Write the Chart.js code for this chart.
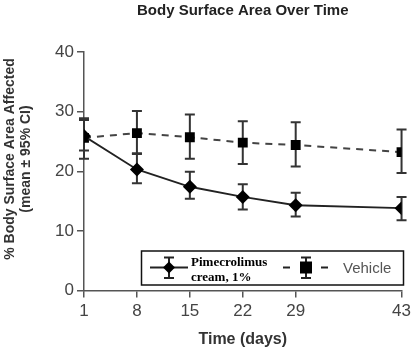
<!DOCTYPE html>
<html>
<head>
<meta charset="utf-8">
<script src="https://cdn.jsdelivr.net/npm/chart.js@4.4.1/dist/chart.umd.min.js"></script>
<style>
html,body{margin:0;padding:0;background:#fff;}
#wrap{position:relative;width:415px;height:353px;}
</style>
</head>
<body>
<div id="wrap"><canvas id="c" width="415" height="353"></canvas></div>
<script>
const days = [1, 8, 15, 22, 29, 43];
const tickLabels = ['1', '8', '15', '22', '29', '43'];
const pimeMean = [25.9, 20.3, 17.4, 15.7, 14.3, 13.8];
const pimeLower = [23.5, 18.0, 15.4, 13.6, 12.4, 11.8];
const pimeUpper = [28.6, 23.0, 19.9, 17.8, 16.4, 15.7];
const vehMean = [25.6, 26.4, 25.7, 24.8, 24.4, 23.2];
const vehLower = [22.1, 22.9, 22.1, 21.2, 20.8, 19.7];
const vehUpper = [28.9, 30.1, 29.5, 28.4, 28.2, 27.0];
const seriesNames = ['Pimecrolimus', 'cream, 1%', 'Vehicle'];
const chartTitle = 'Body Surface Area Over Time';
const yTitle = ['% Body Surface Area Affected', '(mean \u00b1 95% CI)'];
const xTitle = 'Time (days)';

const errs = [[pimeLower, pimeUpper], [vehLower, vehUpper]];

const errorBars = {
  id: 'errorBars',
  beforeDatasetsDraw(chart) {
    const ctx = chart.ctx, xs = chart.scales.x, ys = chart.scales.y;
    ctx.save();
    ctx.strokeStyle = '#333';
    ctx.lineWidth = 2;
    errs.forEach(([lo, hi]) => {
      days.forEach((d, j) => {
        const x = xs.getPixelForValue(d);
        const y1 = ys.getPixelForValue(lo[j]);
        const y2 = ys.getPixelForValue(hi[j]);
        ctx.beginPath();
        ctx.moveTo(x, y1); ctx.lineTo(x, y2);
        ctx.moveTo(x - 5, y1); ctx.lineTo(x + 5, y1);
        ctx.moveTo(x - 5, y2); ctx.lineTo(x + 5, y2);
        ctx.stroke();
      });
    });
    ctx.restore();
  }
};

const extras = {
  id: 'extras',
  afterDraw(chart) {
    const ctx = chart.ctx, a = chart.chartArea;
    ctx.save();
    // title
    ctx.fillStyle = '#222';
    ctx.font = 'bold 15px "Liberation Sans", Arial, sans-serif';
    ctx.textAlign = 'center';
    ctx.textBaseline = 'middle';
    ctx.fillText(chartTitle, (a.left + a.right) / 2, 11);
    // y title
    ctx.save();
    ctx.translate(0, 159);
    ctx.rotate(-Math.PI / 2);
    ctx.font = 'bold 14px "Liberation Sans", Arial, sans-serif';
    ctx.fillStyle = '#333';
    ctx.fillText(yTitle[0], 0, 10);
    ctx.fillText(yTitle[1], 0, 26);
    ctx.restore();
    // legend
    ctx.strokeStyle = '#111';
    ctx.lineWidth = 1.5;
    ctx.strokeRect(141.5, 251, 262, 34);
    const cy = 267.5;
    // pime symbol
    ctx.strokeStyle = '#222';
    ctx.lineWidth = 2;
    ctx.beginPath();
    ctx.moveTo(150, cy); ctx.lineTo(188, cy);
    ctx.moveTo(169, 257.5); ctx.lineTo(169, 278);
    ctx.moveTo(164, 257.5); ctx.lineTo(174, 257.5);
    ctx.moveTo(164, 278); ctx.lineTo(174, 278);
    ctx.stroke();
    ctx.fillStyle = '#000';
    ctx.beginPath();
    ctx.moveTo(169, cy - 6); ctx.lineTo(175, cy); ctx.lineTo(169, cy + 6); ctx.lineTo(163, cy);
    ctx.closePath(); ctx.fill();
    ctx.font = 'bold 13px "Liberation Serif", "Times New Roman", serif';
    ctx.textAlign = 'left';
    ctx.textBaseline = 'alphabetic';
    ctx.fillText(seriesNames[0], 191, 266);
    ctx.fillText(seriesNames[1], 191, 281);
    // vehicle symbol
    ctx.beginPath();
    ctx.moveTo(283, cy); ctx.lineTo(290, cy);
    ctx.moveTo(321, cy); ctx.lineTo(328, cy);
    ctx.moveTo(306, 257.5); ctx.lineTo(306, 278);
    ctx.moveTo(301, 257.5); ctx.lineTo(311, 257.5);
    ctx.moveTo(301, 278); ctx.lineTo(311, 278);
    ctx.stroke();
    ctx.fillRect(300, cy - 6, 12, 12);
    ctx.font = '15px "Liberation Sans", Arial, sans-serif';
    ctx.fillStyle = '#555';
    ctx.textBaseline = 'middle';
    ctx.fillText(seriesNames[2], 343, cy + 1);
    ctx.restore();
  }
};

new Chart(document.getElementById('c'), {
  type: 'line',
  data: {
    datasets: [
      {
        label: seriesNames[0] + ' ' + seriesNames[1],
        data: days.map((d, i) => ({x: d, y: pimeMean[i]})),
        borderColor: '#222', backgroundColor: '#000', borderWidth: 1.8,
        pointStyle: 'rectRot', pointRadius: 7, pointHoverRadius: 7,
        pointBorderWidth: 0, tension: 0
      },
      {
        label: seriesNames[2],
        data: days.map((d, i) => ({x: d, y: vehMean[i]})),
        borderColor: '#444', backgroundColor: '#000', borderWidth: 2,
        borderDash: [7, 6],
        pointStyle: 'rect', pointRadius: 7, pointHoverRadius: 7,
        pointBorderWidth: 0, tension: 0
      }
    ]
  },
  options: {
    responsive: false, animation: false,
    layout: {padding: {top: 52, right: 12, left: 0, bottom: 0}},
    plugins: {legend: {display: false}, title: {display: false}, tooltip: {enabled: false}},
    scales: {
      x: {
        type: 'linear', min: 1, max: 43,
        afterBuildTicks: s => { s.ticks = days.map(v => ({value: v})); },
        afterFit: s => { s.height = 62.5; },
        ticks: {
          callback: (v) => tickLabels[days.indexOf(v)],
          color: '#444', font: {size: 17, family: '"Liberation Sans", Arial, sans-serif'},
          padding: 4, maxRotation: 0, autoSkip: false
        },
        grid: {drawOnChartArea: false, drawTicks: true, tickLength: 7, color: '#555', lineWidth: 1.5},
        border: {display: true, color: '#555', width: 1.5},
        title: {display: true, text: xTitle, color: '#333', font: {size: 16, weight: 'bold', family: '"Liberation Sans", Arial, sans-serif'}, padding: {top: 8}}
      },
      y: {
        min: 0, max: 40,
        afterFit: s => { s.width = 84; },
        ticks: {
          stepSize: 10,
          color: '#444', font: {size: 17, family: '"Liberation Sans", Arial, sans-serif'},
          padding: 3
        },
        grid: {drawOnChartArea: false, drawTicks: true, tickLength: 7, color: '#555', lineWidth: 1.5},
        border: {display: true, color: '#555', width: 1.5}
      }
    }
  },
  plugins: [errorBars, extras]
});
</script>
</body>
</html>
